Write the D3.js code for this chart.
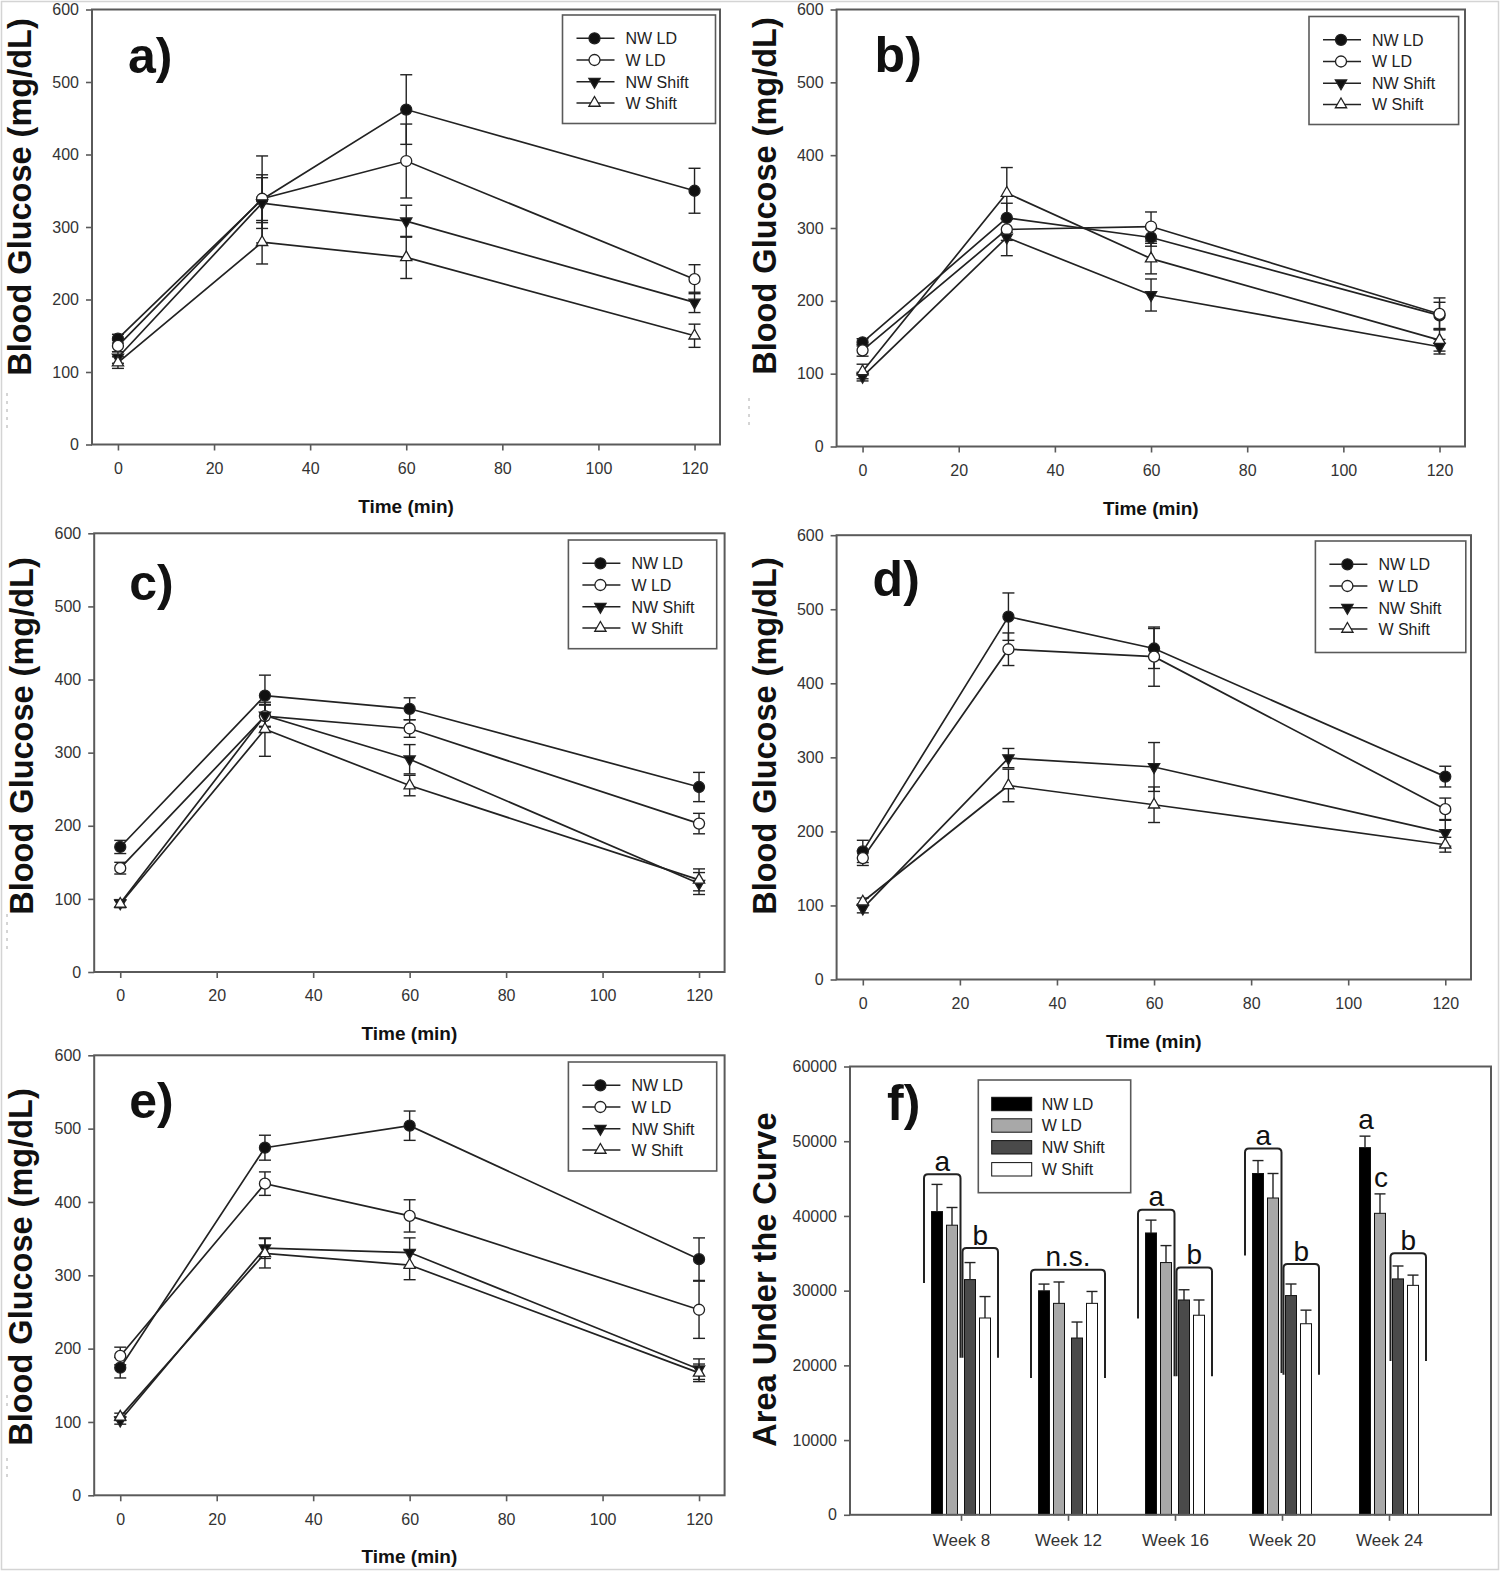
<!DOCTYPE html>
<html><head><meta charset="utf-8">
<script src="https://cdn.jsdelivr.net/npm/d3@7"></script>
<style>
body{margin:0;background:#fff}
svg{display:block}
text{font-family:"Liberation Sans",Arial,Helvetica,sans-serif}
</style>
</head><body>
<svg id="fig" width="1501" height="1573"></svg>
<script>
// ---------------- DATA ----------------
const timePoints = [0, 30, 60, 120];
const timeTicks = [0, 20, 40, 60, 80, 100, 120];
const glucoseTicks = [0, 100, 200, 300, 400, 500, 600];
const seriesNames = ["NW LD", "W LD", "NW Shift", "W Shift"];

// rows: NW LD, W LD, NW Shift, W Shift ; columns: 0, 30, 60, 120 min
const panelAMeans  = [[146, 338, 462, 350], [136, 339, 391, 228], [120, 333, 308, 196], [113, 279, 258, 150]];
const panelAErrors = [[6, 60, 48, 31], [8, 33, 51, 20], [8, 35, 22, 14], [8, 30, 29, 16]];
const panelBMeans  = [[143, 314, 287, 180], [132, 298, 302, 182], [96, 287, 208, 137], [103, 348, 258, 146]];
const panelBErrors = [[5, 20, 12, 18], [8, 15, 20, 22], [6, 25, 22, 10], [10, 35, 21, 15]];
const panelCMeans  = [[171, 378, 360, 253], [142, 350, 333, 203], [94, 351, 291, 121], [93, 332, 255, 126]];
const panelCErrors = [[9, 28, 15, 20], [8, 15, 12, 14], [5, 15, 20, 15], [5, 37, 14, 15]];
const panelDMeans  = [[173, 490, 447, 274], [164, 446, 436, 230], [96, 299, 287, 198], [105, 262, 236, 182]];
const panelDErrors = [[15, 32, 27, 14], [10, 22, 40, 15], [6, 13, 33, 18], [5, 22, 24, 10]];
const panelEMeans  = [[174, 474, 504, 322], [190, 425, 381, 253], [102, 337, 331, 172], [107, 330, 314, 167]];
const panelEErrors = [[14, 17, 20, 29], [12, 16, 22, 39], [5, 14, 20, 14], [5, 20, 20, 12]];

const weeks = ["Week 8", "Week 12", "Week 16", "Week 20", "Week 24"];
const aucTicks = [0, 10000, 20000, 30000, 40000, 50000, 60000];
const aucMeans = [
  [40580, 29980, 37720, 45680, 49140],   // NW LD
  [38760, 28300, 33760, 42400, 40350],   // W LD
  [31480, 23660, 28750, 29340, 31570],   // NW Shift
  [26340, 28300, 26710, 25570, 30710]    // W Shift
];
const aucErrors = [
  [3640, 900, 1720, 1730, 1540],
  [2370, 2860, 2270, 3280, 2600],
  [2280, 2140, 1370, 1550, 1730],
  [2870, 1590, 2040, 1820, 1370]
];
// significance brackets
const bracketWeeks  = ["Week 8", "Week 8", "Week 12", "Week 16", "Week 16", "Week 20", "Week 20", "Week 24"];
const bracketLabels = ["a", "b", "n.s.", "a", "b", "a", "b", "b"];
const bracketFirst  = [0, 2, 0, 0, 2, 0, 2, 2];
const bracketLast   = [1, 3, 3, 1, 3, 1, 3, 3];
const bracketTop    = [45590, 35705, 32783, 40836, 33105, 49035, 33560, 35007];
const bracketLeftEnd  = [31016, 21030, 18300, 26273, 18530, 34700, 18757, 20578];
const bracketRightEnd = [21030, 21030, 18300, 18530, 18530, 18985, 18757, 20578];
const letterWeeks  = ["Week 24", "Week 24"];
const letterBars   = [0, 1];
const letterLabels = ["a", "c"];

// ---------------- DRAWING ----------------
const svg = d3.select("#fig");
const INK = "#222";
const AXIS = "#5a5a5a";
const LABEL = "#333";

// whole figure border
svg.append("rect").attr("x", 1.5).attr("y", 1.5).attr("width", 1497).attr("height", 1568)
  .attr("fill", "none").attr("stroke", "#d4d4d4").attr("stroke-width", 1.5);

// small scan artefacts at the left edges
[[7, 393, 431], [749, 398, 428], [7, 914, 954], [7, 1395, 1410], [7, 1458, 1478]].forEach(d => {
  svg.append("line").attr("x1", d[0]).attr("x2", d[0]).attr("y1", d[1]).attr("y2", d[2])
    .attr("stroke", "#aaa").attr("stroke-width", 1).attr("stroke-dasharray", "3,5");
});

const markerFill = ["#111", "#fff", "#111", "#fff"];
const markerType = [d3.symbolCircle, d3.symbolCircle, d3.symbolTriangle, d3.symbolTriangle];
const markerSize = [95, 95, 55, 55];
const markerRot  = [0, 0, 180, 0];

function drawMarker(g, i, cx, cy) {
  g.append("path")
    .attr("d", d3.symbol().type(markerType[i]).size(markerSize[i])())
    .attr("transform", `translate(${cx},${cy}) rotate(${markerRot[i]})`)
    .attr("fill", markerFill[i]).attr("stroke", INK).attr("stroke-width", 1.3);
}

function styleAxis(ax, size) {
  ax.select(".domain").remove();
  ax.attr("font-size", size).attr("font-family", '"Liberation Sans",Arial,sans-serif');
  ax.selectAll(".tick line").attr("stroke", AXIS).attr("stroke-width", 1.6);
  ax.selectAll(".tick text").attr("fill", LABEL);
}

function frame(g, p) {
  g.append("rect").attr("x", p.l).attr("y", p.t).attr("width", p.r - p.l).attr("height", p.b - p.t)
    .attr("fill", "none").attr("stroke", AXIS).attr("stroke-width", 2);
}

function linePanel(p, means, errs) {
  const g = svg.append("g");
  const x = d3.scaleLinear().domain([-5.4, 125.3]).range([p.l, p.r]);
  const y = d3.scaleLinear().domain([0, 600]).range([p.b, p.t]);

  const ya = g.append("g").attr("transform", `translate(${p.l},0)`)
    .call(d3.axisLeft(y).tickValues(glucoseTicks).tickSize(6).tickPadding(7).tickSizeOuter(0));
  styleAxis(ya, 16);
  const xa = g.append("g").attr("transform", `translate(0,${p.b})`)
    .call(d3.axisBottom(x).tickValues(timeTicks).tickSize(6).tickPadding(12).tickSizeOuter(0));
  styleAxis(xa, 16);
  frame(g, p);

  // lines
  const line = d3.line().x((d, j) => x(timePoints[j])).y(d => y(d));
  means.forEach(m => {
    g.append("path").attr("d", line(m)).attr("fill", "none").attr("stroke", INK).attr("stroke-width", 1.7);
  });
  // error bars
  means.forEach((m, i) => {
    m.forEach((v, j) => {
      const cx = x(timePoints[j]), e = errs[i][j];
      g.append("line").attr("x1", cx).attr("x2", cx).attr("y1", y(v - e)).attr("y2", y(v + e))
        .attr("stroke", INK).attr("stroke-width", 1.4);
      [v - e, v + e].forEach(c => {
        g.append("line").attr("x1", cx - 6).attr("x2", cx + 6).attr("y1", y(c)).attr("y2", y(c))
          .attr("stroke", INK).attr("stroke-width", 1.4);
      });
    });
  });
  // markers
  means.forEach((m, i) => m.forEach((v, j) => drawMarker(g, i, x(timePoints[j]), y(v))));

  // legend
  const L = p.leg;
  g.append("rect").attr("x", L[0]).attr("y", L[1]).attr("width", L[2]).attr("height", L[3])
    .attr("fill", "#fff").attr("stroke", AXIS).attr("stroke-width", 1.6);
  const rowY = [23.3, 45, 66.7, 88];
  seriesNames.forEach((name, i) => {
    const ry = L[1] + rowY[i];
    g.append("line").attr("x1", L[0] + 14).attr("x2", L[0] + 52).attr("y1", ry).attr("y2", ry)
      .attr("stroke", INK).attr("stroke-width", 1.5);
    drawMarker(g, i, L[0] + 32, ry);
    g.append("text").attr("x", L[0] + 63).attr("y", ry + 5.8).attr("font-size", 16)
      .attr("fill", "#222").text(name);
  });

  // panel letter
  g.append("text").attr("x", p.l + p.letter[0]).attr("y", p.letter[1])
    .attr("font-family", "Lato, 'Open Sans', sans-serif").attr("font-weight", 700)
    .attr("font-size", 50).attr("fill", "#111").text(p.name);

  // axis titles
  g.append("text").attr("transform", `translate(${p.ylab[0]},${p.ylab[1]}) rotate(-90)`)
    .attr("text-anchor", "middle").attr("font-weight", 700).attr("font-size", 32.5)
    .attr("fill", "#111").text("Blood Glucose (mg/dL)");
  g.append("text").attr("x", (p.l + p.r) / 2).attr("y", p.b + 68)
    .attr("text-anchor", "middle").attr("font-weight", 700).attr("font-size", 19)
    .attr("fill", "#111").text("Time (min)");
}

linePanel({name: "a)", l: 92, r: 720, t: 9.5, b: 444.5, leg: [562.5, 15, 153, 108.5],
  letter: [36, 73], ylab: [31, 197]}, panelAMeans, panelAErrors);
linePanel({name: "b)", l: 836.6, r: 1465, t: 9.5, b: 446.5, leg: [1309, 16.5, 149.6, 108],
  letter: [38, 72], ylab: [776, 196]}, panelBMeans, panelBErrors);
linePanel({name: "c)", l: 94.2, r: 724.6, t: 533.3, b: 972, leg: [568.4, 540, 148.3, 108.7],
  letter: [35, 600], ylab: [32.5, 736]}, panelCMeans, panelCErrors);
linePanel({name: "d)", l: 836.6, r: 1471, t: 535.2, b: 979.5, leg: [1315.4, 541, 150.4, 111.5],
  letter: [36, 596], ylab: [776, 736]}, panelDMeans, panelDErrors);
linePanel({name: "e)", l: 94.2, r: 724.6, t: 1055.3, b: 1495.3, leg: [568.4, 1062, 148.3, 109],
  letter: [35, 1118], ylab: [32, 1267]}, panelEMeans, panelEErrors);

// ---------------- panel f ----------------
(function () {
  const p = {l: 850, r: 1491, t: 1066.5, b: 1514.8};
  const g = svg.append("g");
  const x = d3.scalePoint().domain(weeks).range([854, 1496]).padding(1);
  const y = d3.scaleLinear().domain([0, 60000]).range([p.b, p.t]);
  const barOff = [-24, -9, 9, 24];
  const barW = 11;
  const barFill = ["#000", "#a8a8a8", "#4a4a4a", "#fff"];

  const ya = g.append("g").attr("transform", `translate(${p.l},0)`)
    .call(d3.axisLeft(y).tickValues(aucTicks).tickFormat(d3.format("d")).tickSize(6).tickPadding(7).tickSizeOuter(0));
  styleAxis(ya, 16);
  const xa = g.append("g").attr("transform", `translate(0,${p.b})`)
    .call(d3.axisBottom(x).tickSize(6).tickPadding(13).tickSizeOuter(0));
  styleAxis(xa, 17);

  // bars
  aucMeans.forEach((row, i) => {
    row.forEach((v, j) => {
      const cx = x(weeks[j]) + barOff[i];
      g.append("rect").attr("x", cx - barW / 2).attr("y", y(v)).attr("width", barW).attr("height", y(0) - y(v))
        .attr("fill", barFill[i]).attr("stroke", "#111").attr("stroke-width", 1);
      const e = aucErrors[i][j];
      g.append("line").attr("x1", cx).attr("x2", cx).attr("y1", y(v)).attr("y2", y(v + e))
        .attr("stroke", INK).attr("stroke-width", 1.4);
      g.append("line").attr("x1", cx - 5.5).attr("x2", cx + 5.5).attr("y1", y(v + e)).attr("y2", y(v + e))
        .attr("stroke", INK).attr("stroke-width", 1.4);
    });
  });
  frame(g, p);

  // brackets
  bracketWeeks.forEach((w, k) => {
    const t = x(w);
    const x0 = bracketFirst[k] === 0 ? t - 37 : t + 1.5;
    const x1 = bracketLast[k] === 3 ? t + 37 : t - 0.5;
    const yt = y(bracketTop[k]), yl = y(bracketLeftEnd[k]), yr = y(bracketRightEnd[k]);
    const r = 4;
    g.append("path")
      .attr("d", `M${x0},${yl} L${x0},${yt + r} Q${x0},${yt} ${x0 + r},${yt} L${x1 - r},${yt} Q${x1},${yt} ${x1},${yt + r} L${x1},${yr}`)
      .attr("fill", "none").attr("stroke", INK).attr("stroke-width", 2);
    g.append("text").attr("x", (x0 + x1) / 2).attr("y", yt - 3.5).attr("text-anchor", "middle")
      .attr("font-size", 28).attr("fill", "#111").text(bracketLabels[k]);
  });
  letterWeeks.forEach((w, k) => {
    const i = letterBars[k], j = weeks.indexOf(w);
    const cx = x(w) + barOff[i];
    g.append("text").attr("x", cx + 1).attr("y", y(aucMeans[i][j] + aucErrors[i][j]) - 7)
      .attr("text-anchor", "middle").attr("font-size", 28).attr("fill", "#111").text(letterLabels[k]);
  });

  // legend
  const L = [978.3, 1080, 152.4, 112.7];
  g.append("rect").attr("x", L[0]).attr("y", L[1]).attr("width", L[2]).attr("height", L[3])
    .attr("fill", "#fff").attr("stroke", AXIS).attr("stroke-width", 1.6);
  const rowY = [24, 45.5, 67.3, 89.3];
  seriesNames.forEach((name, i) => {
    const ry = L[1] + rowY[i];
    g.append("rect").attr("x", L[0] + 13.4).attr("y", ry - 6.7).attr("width", 40).attr("height", 13.4)
      .attr("fill", barFill[i]).attr("stroke", "#111").attr("stroke-width", 1);
    g.append("text").attr("x", L[0] + 63.4).attr("y", ry + 5.8).attr("font-size", 16)
      .attr("fill", "#222").text(name);
  });

  g.append("text").attr("x", p.l + 37).attr("y", 1120)
    .attr("font-family", "Lato, 'Open Sans', sans-serif").attr("font-weight", 700)
    .attr("font-size", 50).attr("fill", "#111").text("f)");
  g.append("text").attr("transform", `translate(776,1279.6) rotate(-90)`)
    .attr("text-anchor", "middle").attr("font-weight", 700).attr("font-size", 32.5)
    .attr("fill", "#111").text("Area Under the Curve");
})();
</script>
</body></html>
